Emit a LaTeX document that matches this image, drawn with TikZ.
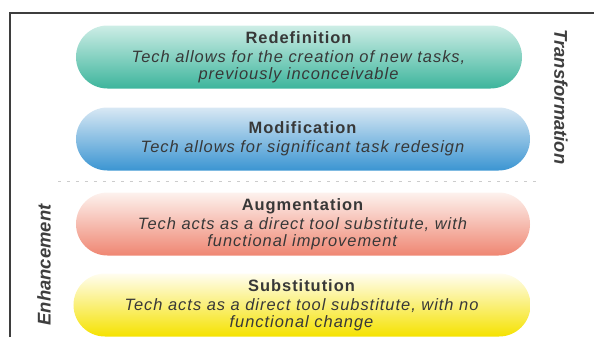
\documentclass[tikz,border=0pt]{standalone}
\usepackage{fontspec}
\setmainfont{Liberation Sans}
\newfontfamily\pillfont[LetterSpace=6]{Liberation Sans}
\usepackage{tikz}
\usetikzlibrary{calc}

\definecolor{redefA}{HTML}{CDEDE6}
\definecolor{redefB}{HTML}{3DB59C}
\definecolor{modifA}{HTML}{D8E8F4}
\definecolor{modifB}{HTML}{3B95D2}
\definecolor{augmA}{HTML}{FDF2EE}
\definecolor{augmB}{HTML}{EF8672}
\definecolor{substA}{HTML}{FFFDF0}
\definecolor{substB}{HTML}{F5E200}
\definecolor{frameC}{HTML}{3E3E3E}
\definecolor{textC}{HTML}{383838}

\begin{document}
\begin{tikzpicture}[x=1bp,y=-1bp,
    pill/.style={rounded corners=31.5bp, minimum height=63bp, align=center,
        inner sep=0pt, text=textC, font=\pillfont\fontsize{16.5}{17.5}\selectfont},
    sidelabel/.style={font=\fontsize{18.5}{20}\selectfont\bfseries\itshape, text=frameC}]

    \useasboundingbox (0,0) rectangle (594,337);

    % frame
    \draw[line width=2pt,frameC] (10,337)--(10,13)--(594,13);

    % the four levels
    \node[pill, minimum width=446bp, top color=redefA, bottom color=redefB]
        (redef) at (299,57) {\textbf{Redefinition}\\[1.5pt]
        \textit{Tech allows for the creation of new tasks,}\\
        \textit{previously inconceivable}};

    \node[pill, minimum width=454bp, top color=modifA, bottom color=modifB]
        (modif) at (303,139) {\textbf{Modification}\\[1.5pt]
        \textit{Tech allows for significant task redesign}};

    \node[pill, minimum width=454bp, top color=augmA, bottom color=augmB]
        (augm) at (303,224) {\textbf{Augmentation}\\[1.5pt]
        \textit{Tech acts as a direct tool substitute, with}\\
        \textit{functional improvement}};

    \node[pill, minimum width=457bp, top color=substA, bottom color=substB]
        (subst) at (302,305) {\textbf{Substitution}\\[1.5pt]
        \textit{Tech acts as a direct tool substitute, with no}\\
        \textit{functional change}};

    % divider
    \coordinate (divL) at (58,181);
    \coordinate (divR) at (542,181);
    \draw[line width=1pt,gray!40,dash pattern=on 3pt off 6pt] (divL)--(divR);

    % side labels
    \node[sidelabel, rotate=-90] (transf) at (561,97) {Transformation};
    \node[sidelabel, rotate=90] (enh) at (44,265) {Enhancement};

\end{tikzpicture}
\end{document}
